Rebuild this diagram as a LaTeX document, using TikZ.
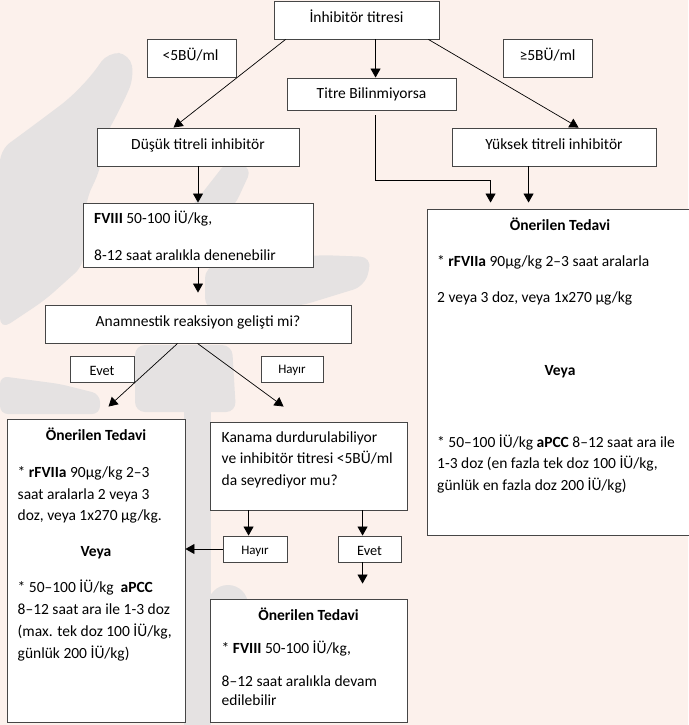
\documentclass[tikz,border=0pt]{standalone}
\usepackage{fontspec}
\setmainfont{Carlito}
\usetikzlibrary{arrows.meta,calc}
\definecolor{bgpink}{RGB}{252,241,236}
\definecolor{wmgrey}{RGB}{229,226,226}
\definecolor{boxline}{RGB}{70,70,70}
\begin{document}
\begin{tikzpicture}[x=1pt,y=-1pt,
  box/.style={draw=boxline, line width=0.9pt, fill=white, inner sep=0pt, rectangle},
  arr/.style={-{Triangle[length=9pt,width=10pt]}, line width=0.8pt, draw=black},
  txt/.style={inner sep=0pt, font=\fontsize{15.5}{22}\selectfont},
  smalltxt/.style={inner sep=0pt, font=\fontsize{14.3}{17}\selectfont},
  tinytxt/.style={inner sep=0pt, font=\fontsize{13}{15}\selectfont},
  wm/.style={fill=wmgrey, draw=none}]
% page and background
\path[use as bounding box] (0,0) rectangle (688,725);
\fill[bgpink] (0,0) rectangle (688,725);
% watermark (approximate)
\path[wm, rounded corners=12pt] (108,52) -- (130,54) -- (134,78) -- (122,105) -- (106,135) -- (100,170) -- (86,200) -- (84,265) -- (45,300) -- (0,330) -- (0,150) -- (30,128) -- (70,98) -- (92,75) -- cycle;
\path[wm, rounded corners=10pt] (228,160) -- (252,168) -- (235,205) -- (200,240) -- (185,215) -- cycle;
\path[wm, rounded corners=12pt] (205,266) -- (320,255) -- (372,257) -- (365,286) -- (300,306) -- (205,310) -- cycle;
\path[wm, rounded corners=10pt] (135,345) -- (232,345) -- (236,412) -- (135,412) -- cycle;
\path[wm, rounded corners=8pt] (0,376) -- (60,384) -- (100,394) -- (100,414) -- (0,414) -- cycle;
\path[wm] (184,400) rectangle (211,725);
\path[wm] (228,605) circle (20);
% boxes
\node[box, minimum width=165pt, minimum height=38pt] (top) at (356.5,20) {};
\node[box, minimum width=89pt, minimum height=38pt] (lt5) at (191.5,58) {};
\node[box, minimum width=169pt, minimum height=32pt] (titre) at (371.5,94) {};
\node[box, minimum width=89pt, minimum height=38pt] (ge5) at (547.5,58) {};
\node[box, minimum width=202pt, minimum height=38pt] (dusuk) at (198,147) {};
\node[box, minimum width=204pt, minimum height=38pt] (yuksek) at (554,147) {};
\node[box, minimum width=230pt, minimum height=64pt] (fviii) at (198,235) {};
\node[box, minimum width=273pt, minimum height=326pt] (rbox) at (563.5,372) {};
\node[box, minimum width=306pt, minimum height=38pt] (anam) at (198,324) {};
\node[box, minimum width=64pt, minimum height=26pt] (evet1) at (102,369) {};
\node[box, minimum width=62pt, minimum height=26pt] (hayir1) at (292,369) {};
\node[box, minimum width=178pt, minimum height=303pt] (lbox) at (96,570.5) {};
\node[box, minimum width=197pt, minimum height=88pt] (kanama) at (308.5,466) {};
\node[box, minimum width=64pt, minimum height=26pt] (hayir2) at (255,549) {};
\node[box, minimum width=63pt, minimum height=26pt] (evet2) at (369.5,549) {};
\node[box, minimum width=197pt, minimum height=123pt] (bbox) at (308.5,660.5) {};
% single-line texts
\node[txt, anchor=base] (ttop) at ($(top.center)+(0,3)$) {İnhibitör titresi};
\node[txt, anchor=base] (tlt5) at ($(lt5.center)+(-1,2.5)$) {<5BÜ/ml};
\node[txt, anchor=base] (tge5) at ($(ge5.center)+(0,2.5)$) {≥5BÜ/ml};
\node[txt, anchor=base] (ttitre) at ($(titre.center)+(0,4.4)$) {Titre Bilinmiyorsa};
\node[txt, anchor=base] (tdusuk) at ($(dusuk.center)+(0,2.5)$) {Düşük titreli inhibitör};
\node[txt, anchor=base] (tyuksek) at ($(yuksek.center)+(0,2.5)$) {Yüksek titreli inhibitör};
\node[txt, anchor=base] (tanam) at ($(anam.center)+(0,2)$) {Anamnestik reaksiyon gelişti mi?};
\node[smalltxt, anchor=base] (tevet1) at ($(evet1.center)+(0,6)$) {Evet};
\node[tinytxt, anchor=base] (thayir1) at ($(hayir1.center)+(0,4.5)$) {Hayır};
\node[tinytxt, anchor=base] (thayir2) at ($(hayir2.center)+(0,5)$) {Hayır};
\node[smalltxt, anchor=base] (tevet2) at ($(evet2.center)+(0,6)$) {Evet};
% FVIII box
\node[txt, anchor=base west] (f1) at (94,223) {\textbf{FVIII} 50-100 İÜ/kg,};
\node[txt, anchor=base west] (f2) at (94,260) {8-12 saat aralıkla denenebilir};
% right box
\node[txt, anchor=base] (r0) at (560,230) {\textbf{Önerilen Tedavi}};
\node[txt, anchor=base west] (r1) at (437,266) {* \textbf{rFVIIa} 90µg/kg 2–3 saat aralarla};
\node[txt, anchor=base west] (r2) at (437,302) {2 veya 3 doz, veya 1x270 µg/kg};
\node[txt, anchor=base] (r3) at (560,375) {\textbf{Veya}};
\node[txt, anchor=base west] (r4) at (437,447) {* 50–100 İÜ/kg \textbf{aPCC} 8–12 saat ara ile};
\node[txt, anchor=base west] (r5) at (437,468.5) {1-3 doz (en fazla tek doz 100 İÜ/kg,};
\node[txt, anchor=base west] (r6) at (437,490) {günlük en fazla doz 200 İÜ/kg)};
% left box
\node[txt, anchor=base] (l0) at (96,440) {\textbf{Önerilen Tedavi}};
\node[txt, anchor=base west] (l1) at (17.5,477) {* \textbf{rFVIIa} 90µg/kg 2–3};
\node[txt, anchor=base west] (l2) at (17.5,499) {saat aralarla 2 veya 3};
\node[txt, anchor=base west] (l3) at (17.5,520.5) {doz, veya 1x270 µg/kg.};
\node[txt, anchor=base] (l4) at (96,556) {\textbf{Veya}};
\node[txt, anchor=base west] (l5) at (17.5,592) {* 50–100 İÜ/kg\ \ \textbf{aPCC}};
\node[txt, anchor=base west] (l6) at (17.5,614) {8–12 saat ara ile 1-3 doz};
\node[txt, anchor=base west] (l7) at (17.5,636) {(max. tek doz 100 İÜ/kg,};
\node[txt, anchor=base west] (l8) at (17.5,658) {günlük 200 İÜ/kg)};
% kanama box
\node[txt, anchor=base west] (k1) at (221.5,442) {Kanama durdurulabiliyor};
\node[txt, anchor=base west] (k2) at (221.5,463.5) {ve inhibitör titresi <5BÜ/ml};
\node[txt, anchor=base west] (k3) at (221.5,485) {da seyrediyor mu?};
% bottom box
\node[txt, anchor=base] (b0) at (308.5,620) {\textbf{Önerilen Tedavi}};
\node[txt, anchor=base west] (b1) at (221.5,653) {* \textbf{FVIII} 50-100 İÜ/kg,};
\node[txt, anchor=base west] (b2) at (221.5,686) {8–12 saat aralıkla devam};
\node[txt, anchor=base west] (b3) at (221.5,705.5) {edilebilir};
% connectors
\draw[arr, line width=0.7pt] ($(top.south west)+(12,0)$) -- ($(dusuk.north west)+(77,0)$);
\draw[arr] ($(top.south west)+(102,0)$) -- ($(titre.north west)+(89,0)$);
\draw[arr, line width=0.7pt] ($(top.south east)+(-11,0)$) -- ($(yuksek.north west)+(127,0)$);
\draw[arr] (dusuk.south) -- (fviii.north);
\draw[arr] ($(titre.south west)+(89,5)$) -- ++(0,65) -| ($(rbox.north west)+(64,-6)$);
\draw[arr] ($(yuksek.south west)+(77,0)$) -- ($(rbox.north west)+(102,-6)$);
\draw[arr] (fviii.south) -- ($(anam.north)+(0,-12)$);
\draw[arr, line width=0.7pt] ($(anam.south west)+(133,0)$) -- ($(lbox.north west)+(102,-12)$);
\draw[arr, line width=0.7pt] ($(anam.south west)+(153,0)$) -- ($(kanama.north west)+(74,-15)$);
\draw[arr] ($(kanama.south west)+(39,0)$) -- ($(hayir2.north west)+(26,0)$);
\draw[arr] ($(kanama.south west)+(153,0)$) -- ($(evet2.north west)+(25,0)$);
\draw[arr] (hayir2.west) -- (hayir2.west -| lbox.east);
\draw[arr] ($(evet2.south west)+(25,0)$) -- ($(bbox.north west)+(153,-15)$);
\end{tikzpicture}
\end{document}
